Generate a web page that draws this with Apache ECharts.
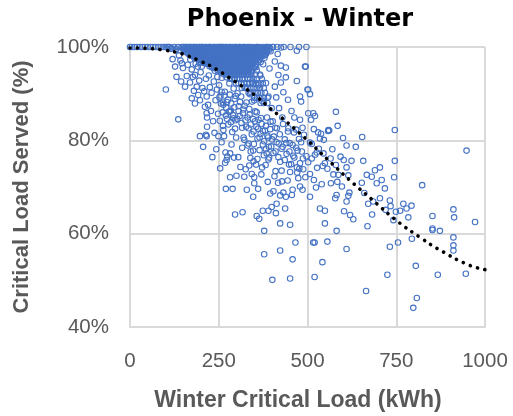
<!DOCTYPE html>
<html><head><meta charset="utf-8">
<script src="https://cdn.jsdelivr.net/npm/echarts@6/dist/echarts.min.js"></script>
<style>html,body{margin:0;padding:0;background:#fff}#c{width:513px;height:416px}</style>
</head><body><div id="c"></div>
<script>
// ---- data (x = Winter Critical Load kWh, y = Critical Load Served %) ----
const titleText = 'Phoenix - Winter';
const xName = 'Winter Critical Load (kWh)';
const yName = 'Critical Load Served (%)';
const xMin = 0, xMax = 1000, xStep = 250;
const yMin = 40, yMax = 100, yStep = 20;

// dense rows of the cluster near the top (one y level per row, x values read along the row)
const row100 = [153,159,166,173,181,189,197,204,213,221,229,238,246,255,263,272,280,289,297,306,314,323,331,340,348,357,365,374,383,392,401,415,433,452,476,497];
const row99_7 = [156,163,169,176,182,188,194,200,206,212,218,225,231,236,243,249,254,260,266,273,279,285,291,297,303,310,315,322,328,334,340,346,353,359,366,373,380,387,395];
const row99_3 = [153,160,166,171,179,184,191,197,203,208,215,221,228,233,239,246,251,257,264,269,276,281,288,293,300,307,312,318,325,331,338,343,349,356,362,369,377,384,391];
const row98_9 = [158,168,175,181,188,194,201,207,214,220,227,233,240,246,253,259,266,272,279,285,292,298,305,311,318,324,331,337,344,350,357,364,371,378,385];
const row98_5 = [165,172,178,185,191,198,204,211,217,224,230,237,243,250,256,263,269,276,282,289,295,302,308,315,321,328,334,341,347,354,361,367,374,383];
const row98_1 = [173,183,189,196,202,208,215,221,227,234,240,246,252,259,265,271,278,284,290,297,303,310,316,322,329,335,342,348,355,361,368,376];
const row97_7 = [181,187,193,199,205,212,218,224,231,237,243,249,256,262,268,275,281,287,294,300,306,313,319,325,332,338,345,351,358,366,379];
const row97_3 = [192,196,202,208,214,220,226,233,239,245,252,258,264,270,277,283,289,296,302,308,315,321,327,334,340,347,353,362];
const row96_8 = [205,211,217,223,229,236,242,248,255,261,267,273,280,286,292,299,305,311,318,324,330,337,343,351,368];
const row96_4 = [214,220,226,232,239,245,251,258,264,270,276,283,289,295,302,308,314,321,327,333,340,347,356];
const row95_9 = [224,230,236,242,248,254,260,266,272,279,285,291,298,304,310,317,323,329,336,343,352];
const row95_5 = [236,239,245,251,257,263,269,276,282,288,294,301,307,313,320,326,332,340,349];
const row95_0 = [247,253,259,265,271,278,284,290,297,303,309,316,322,328,335,343,357];
const row94_6 = [256,262,268,274,281,287,293,300,306,312,319,325,332,341];
const row94_1 = [265,271,277,283,289,295,302,308,314,321,327,334,342,353,366];
const row93_2 = [282,288,295,302,309,316,323,331,339,348,358,371];
const row92_2 = [299,306,313,321,329,337,346,355,364,374];
const row91_2 = [315,323,331,339,348,357,366,377];
const row90_2 = [334,342,351,360,370,380];
const row89_1 = [350,358,367,377,388];
const row88_0 = [368,377,387];
const rowLevels = [100, 99.7, 99.3, 98.9, 98.5, 98.1, 97.7, 97.3, 96.8, 96.4, 95.9, 95.5, 95.0, 94.6, 94.1, 93.2, 92.2, 91.2, 90.2, 89.1, 88.0];
const rowLists = [row100,row99_7,row99_3,row98_9,row98_5,row98_1,row97_7,row97_3,row96_8,row96_4,row95_9,row95_5,row95_0,row94_6,row94_1,row93_2,row92_2,row91_2,row90_2,row89_1,row88_0];

const band0to150 = [[0,100],[5,100],[12,100],[20,100],[28,100],[35,100],[42,100],[50,100],[58,100],[65,100],[72,100],[80,100],[88,100],[95,100],[100,100],[108,100],[115,99.6],[101,90.9],
[105,100],[112,100],[118,99.7],[125,100],[130,99.5],[135,100],[140,99.3],[145,100],[148,99.6],[127,95.8],[146,96.5],[149,95.5],[131,93.6],[136,84.5],[144,92.6],[120,97.4],[138,98.2],[142,97.1]];

const load150to250 = [[150,100],[155,99.4],[158,100],[162,98.8],[165,99.6],[168,100],[172,99.1],[175,98.2],[178,100],[180,99.5],[183,98.6],[186,100],[188,97.7],[190,99.2],[193,98.4],[196,100],[198,97.2],[200,99.6],
[163,96.2],[169,92.4],[174,95.2],[177,93.6],[183,94],[185,96.4],[155,91.5],[174,89],[197,88.6],[183,87.9],[192,89.7],[191,95.8],[195,92.8],[180,90.6],[160,93.8],[188,91.5],[197,80.9],[170,97.3],[199,94.6],[195,96.6],
[203,100],[205,98.9],[208,99.5],[210,97.9],[212,100],[215,98.6],[218,96.9],[220,99.8],[222,97.8],[225,100],[227,96.4],[229,98.8],[231,95.6],[233,99.4],[235,97.3],[237,100],[239,94.9],[240,98.1],[242,96.1],[244,99.6],[246,93.6],[247,97.2],[249,100],[250,95.4],
[202,95.8],[206,96.6],[214,93.2],[216,89.4],[211,87.2],[220,87.6],[216,85.8],[217,84.9],[217,82.9],[216,80.9],[214,81.2],[206,78.6],[225,91.4],[230,90.2],[236,92.6],[241,88.6],[245,90.9],[228,86.3],[234,84.1],[248,85.7],[204,91.2],[222,93.9],[238,81.6],[249,80.9],[243,78.1],[232,76.4],[209,90.5]];

const load250to350 = [[252,99.2],[254,100],[256,97.6],[258,98.7],[260,100],[262,96.2],[264,99.1],[266,94.7],[268,97.9],[270,100],[272,93.5],[274,96.6],[276,99.4],[278,95.1],[280,92.2],[282,98.2],[284,100],[286,94],[288,96.9],[290,99],[292,91.1],[294,93],[296,97.4],[298,100],[300,95.5],
[251,91.8],[255,89.6],[259,93.4],[263,87.6],[267,90.4],[270,85.3],[273,88.2],[277,83.4],[281,89.8],[284,86.4],[288,81.8],[291,84.7],[295,88.9],[299,80.6],[253,84.2],[258,79.6],[263,82.2],[265,80.9],[269,77.4],[272,75.8],[274,76.5],[268,75.2],[254,74],[282,77.2],[286,79.1],[270,69.6],[289,69.6],[282,72.1],[300,72.4],[296,64.1],[279,86.1],[261,86],[293,76.3],[256,87.9],[297,84.3],
[302,99.5],[305,97.3],[308,100],[311,95.2],[314,98.6],[317,93.1],[320,100],[323,96.4],[326,91.4],[329,98.9],[332,94.2],[335,100],[338,89.9],[341,96.8],[344,92.6],[347,99.4],[350,88.6],
[303,90.1],[306,87.3],[309,85.2],[313,89.4],[316,82.7],[319,86.6],[322,80.1],[325,84.3],[328,88.1],[331,78.9],[334,82.6],[337,85.5],[340,77.6],[343,81.3],[346,84.6],[349,79.2],[316,78.4],[322,72.2],[326,73.8],[336,74.6],[343,72.8],[350,72.1],[350,70.8],[329,69.4],[347,67.9],[317,64.6],[305,76.4],[311,74.3],[339,76.2],[348,75.5]];

const belowTrend = [[252,89.2],[258,90.4],[262,88.1],[266,89.6],[271,87.0],[276,88.7],[281,86.2],[285,87.9],[290,85.4],[294,87.1],[298,89.5],[302,84.6],[306,86.3],[310,88.2],[314,83.7],[318,85.8],[323,87.4],[327,82.9],[331,84.9],[336,86.7],[340,83.4],[344,88.3],[348,81.9],[352,84.1],[357,86.0],[361,82.5],[365,80.6],[369,84.8],[374,82.0],[378,79.8],[383,83.1],[387,81.0],[391,78.6],[396,84.0],[400,80.2],[404,77.3],[409,82.7],[413,79.6],[418,76.4],[422,81.3],[427,78.2],[431,83.5],[436,75.8],[440,79.4],[445,81.9],[449,77.6],[454,74.9],[458,79.0],[463,76.3],[468,82.3],[472,77.8],[477,73.9],[482,79.6],[487,76.1],[320,80.6],[334,79.3],[347,77.8],[359,76.0],[372,74.2],[385,77.2],[410,73.4],[428,71.2],[296,82.5],[284,83.9],[273,84.6],[262,83.1]];

const load350to500 = [[352,99.6],[355,95.7],[358,100],[361,91.8],[364,97.2],[367,93.9],[370,99.3],[373,88.4],[375,96.3],[380,98.3],[383,92.3],[386,100],[390,89.4],[393,95.4],[396,99.1],[399,86.9],
[353,86.2],[356,82.9],[359,80.4],[362,84.4],[365,77.9],[368,81.4],[371,83.5],[374,79.1],[377,76.8],[380,82.1],[383,78.1],[386,84.9],[389,80.6],[392,76.3],[395,82.4],[398,78.7],[361,69.6],[382,74.7],[390,75.9],[357,63.8],[364,63.2],[374,64.9],[378,60.6],[390,64.9],[399,65.7],[378,55.6],[355,74.8],[370,72.7],[388,71.1],[395,68.6],
[403,100],[408,96.9],[416,98.5],[418,94],[425,99.9],[425,96],[425,92.4],[408,91.5],[439,95.6],[439,93.5],[412,89.2],[420,86.9],[432,90.3],[445,88.7],[429,84.9],
[402,84.1],[405,80.8],[410,77.6],[414,82.6],[419,79.3],[423,75.4],[427,73.5],[432,68.8],[423,68.2],[439,67.9],[413,66.4],[437,65.4],[411,64.4],[423,62.2],[401,50.1],[423,56.4],[436,80.2],[441,77.1],[446,82.6],[448,74.8],[430,78.6],[407,72.3],[417,70.9],[444,71.4],[404,69.1],[450,79.4],
[470,99.2],[493,95.8],[495,95.8],[500,90.9],[502,90.9],[507,89.9],[482,88.3],[479,89.4],[470,92.7],[502,85.8],[479,84.4],[451,73.2],[458,69.4],[479,70.1],[486,69.4],[474,71.9],[471,73.1],[470,74.2],[479,75.1],[451,61.9],[466,58.1],[458,54.5],[451,50.4],[455,86.3],[462,81.7],[468,78.4],[476,80.3],[484,77.6],[490,81.2],[497,76.6],[488,73.8],[460,76.7],[494,72.1],[463,84.9],[486,82.7],[456,68.3]];

const load500to1000 = [[516,85.8],[521,85.2],[538,81.4],[530,81.7],[535,80.4],[507,79.5],[512,79.2],[518,82.4],[521,76.9],[526,77.4],[545,77.2],[549,75.1],[543,74.5],[507,72.8],[518,71.5],[524,69.9],[507,67.9],[535,65.4],[549,64.9],[549,62.2],[516,58.1],[520,58.1],[542,53.9],[520,50.7],[527,74.1],[540,70.6],[512,76.1],[532,78.2],[502,75.3],[546,80.1],[510,84.4],
[559,82.2],[561,82.1],[580,86.1],[585,83.1],[558,82],[593,76.5],[580,74.7],[610,74.2],[573,72.7],[587,72.6],[584,71.1],[566,70.8],[582,68.3],[578,67.6],[618,68.8],[610,66.9],[620,64],[629,63.1],[582,60.6],[556,58.3],[610,56.7],[610,78.9],[636,78.6],[624,75.6],[570,78.1],[600,80.5],[565,76.1],[556,73.9],[597,70.1],[615,72.5],[603,64.8],[615,68.1],[602,75.8],
[654,80.7],[657,75.6],[704,74.2],[653,70.9],[667,72.6],[681,72.2],[695,70.8],[709,71.5],[718,69.7],[704,67.6],[671,66.4],[685,66.9],[732,67.1],[734,65.9],[682,64.1],[669,61.6],[744,72.1],[742,62.9],[749,64.7],[746,75.6],[746,82.2],[732,57.2],[725,51.2],[665,47.7],[690,73.6],[720,65.1],[660,68.7],
[755,58.1],[761,64.9],[770,66.4],[793,66],[779,65.4],[784,63.5],[794,58.9],[805,53.1],[808,46.2],[798,44.1],[823,70.4],[852,63.8],[852,61.1],[852,60.8],[873,60.6],[867,51.2],[911,65.2],[913,63.5],[911,59.2],[911,57.5],[911,56.4],[946,51.4],[948,77.8],[972,62.5]];

const trendX = [0,50,100,141,163,202,244,276,329,361,394,428,493,558,620,685,751,819,873,951,1000];
const trendY = [99.8,99.7,99.3,98.65,98.1,96.85,95.2,93.6,90.9,89.1,86.9,84.8,80.5,75.8,71.4,67.1,62.8,59.1,56.5,53.4,52.3];

// ---- chart ----
const rowPoints = [];
rowLists.forEach((xs, i) => xs.forEach(x => rowPoints.push([x, rowLevels[i]])));
const scatterData = [].concat(band0to150, load150to250, load250to350, belowTrend, load350to500, load500to1000, rowPoints);
const trendData = trendX.map((x, i) => [x, trendY[i]]);
const grey = '#595959', gridCol = '#d9d9d9';
const chart = echarts.init(document.getElementById('c'), null, {renderer: 'canvas'});
chart.setOption({
  animation: false,
  backgroundColor: '#fff',
  grid: {left: 130, right: 28, top: 47, bottom: 89, containLabel: false},
  graphic: [
    {type: 'text', x: 300, y: 20, z: 10, style: {text: titleText, fill: '#000', font: 'bold 24px "DejaVu Sans"', textAlign: 'center', textVerticalAlign: 'middle'}},
    {type: 'text', x: 298, y: 401, z: 10, style: {text: xName, fill: grey, font: 'bold 23px "Liberation Sans"', textAlign: 'center', textVerticalAlign: 'middle'}},
    {type: 'text', x: 22, y: 187, rotation: Math.PI / 2, z: 10, style: {text: yName, fill: grey, font: 'bold 22px "Liberation Sans"', textAlign: 'center', textVerticalAlign: 'middle'}}
  ],
  xAxis: {
    type: 'value', min: xMin, max: xMax, interval: xStep,
    axisLine: {show: true, lineStyle: {color: gridCol, width: 2}},
    axisTick: {show: false},
    axisLabel: {color: grey, fontFamily: 'Liberation Sans', fontSize: 20.5, margin: 24, formatter: v => String(v)},
    splitLine: {show: true, lineStyle: {color: gridCol, width: 2}}
  },
  yAxis: {
    type: 'value', min: yMin, max: yMax, interval: yStep,
    axisLine: {show: true, lineStyle: {color: gridCol, width: 2}},
    axisTick: {show: false},
    axisLabel: {color: grey, fontFamily: 'Liberation Sans', fontSize: 20.5, margin: 21, formatter: '{value}%'},
    splitLine: {show: true, lineStyle: {color: gridCol, width: 2}}
  },
  series: [
    {type: 'scatter', data: scatterData, symbol: 'circle', symbolSize: 5.5,
     itemStyle: {color: 'rgba(255,255,255,0)', borderColor: '#4472C4', borderWidth: 1.1, opacity: 1}},
    {type: 'line', data: trendData, smooth: true, showSymbol: false, z: 5,
     lineStyle: {color: '#000', width: 3.6, type: [0.1, 7.4], cap: 'round'}}
  ]
});
</script></body></html>
